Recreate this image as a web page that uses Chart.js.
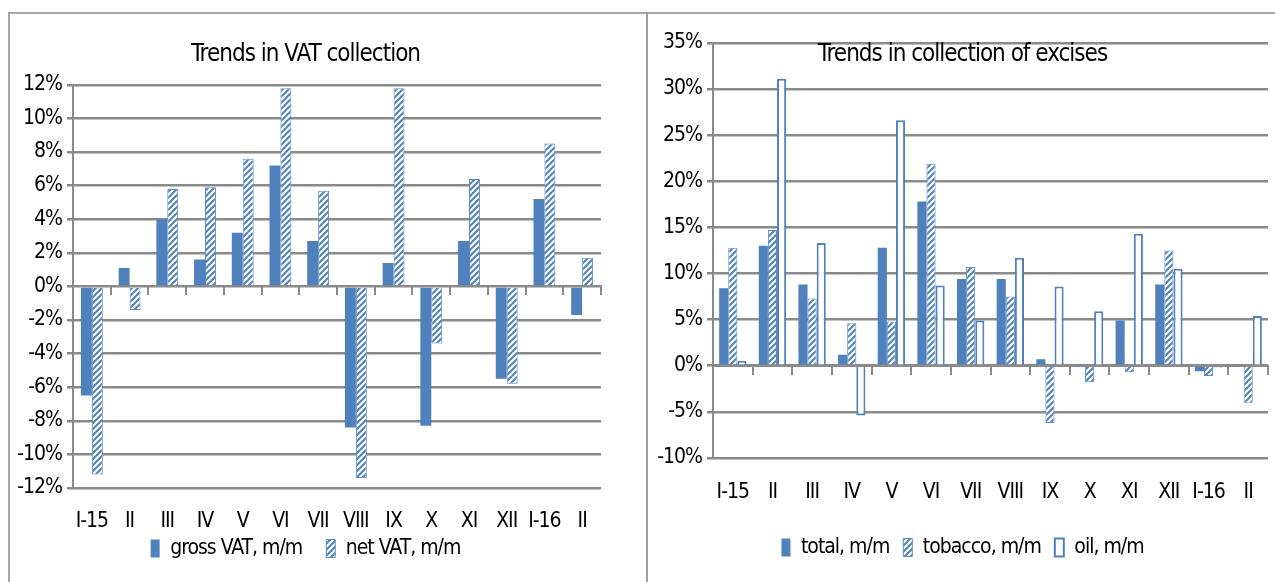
<!DOCTYPE html>
<html>
<head>
<meta charset="utf-8">
<script src="https://cdn.jsdelivr.net/npm/chart.js@4.4.1/dist/chart.umd.min.js"></script>
<style>
  html, body { margin: 0; padding: 0; background: #fff; }
  body { width: 1275px; height: 582px; position: relative; overflow: hidden; }
  #frame { position: absolute; left: 8px; top: 12px; width: 1267px; height: 570px;
           border-top: 2px solid #a6a6a6; border-left: 2px solid #a6a6a6; box-sizing: border-box; }
  #divider { position: absolute; left: 646px; top: 12px; width: 2px; height: 570px; background: #a0a0a0; }
  #vatBox { position: absolute; left: 10px; top: 14px; }
  #exciseBox { position: absolute; left: 649px; top: 14px; }
</style>
</head>
<body>
<div id="frame"></div>
<div id="divider"></div>
<div id="vatBox"><canvas id="vatChart" width="636" height="568"></canvas></div>
<div id="exciseBox"><canvas id="exciseChart" width="626" height="568"></canvas></div>
<script>
// months of 2015 - early 2016
const months = ['I-15', 'II', 'III', 'IV', 'V', 'VI', 'VII', 'VIII', 'IX', 'X', 'XI', 'XII', 'I-16', 'II'];

// VAT, % m/m
const grossVat = [-6.5, 1.1, 4.0, 1.6, 3.2, 7.2, 2.7, -8.4, 1.4, -8.3, 2.7, -5.5, 5.2, -1.7];
const netVat = [-11.2, -1.4, 5.8, 5.9, 7.6, 11.8, 5.7, -11.4, 11.8, -3.4, 6.4, -5.8, 8.5, 1.7];

// excises, % m/m
const exciseTotal = [8.4, 13.0, 8.8, 1.2, 12.8, 17.8, 9.4, 9.4, 0.7, 0.2, 4.9, 8.8, -0.6, null];
const exciseTobacco = [12.8, 14.7, 7.3, 4.6, 4.8, 21.9, 10.7, 7.5, -6.2, -1.8, -0.7, 12.5, -1.1, -4.0];
const exciseOil = [0.5, 31.1, 13.3, -5.4, 26.6, 8.7, 4.9, 11.7, 8.6, 5.9, 14.3, 10.5, -0.2, 5.4];

// axis ranges [min, max, step]
const vatRange = [-12, 12, 2];
const exciseRange = [-10, 35, 5];

const BLUE = '#4F81BD';
const GRID = '#8a8a8a';
const FONT = "'Liberation Sans Narrow', 'Arial Narrow', 'DejaVu Sans Condensed', sans-serif";

Chart.defaults.font.family = FONT;
Chart.defaults.color = '#000';

// tighter text, the source chart uses a condensed font
const tightText = {
  id: 'tightText',
  beforeLayout(chart) { chart.ctx.letterSpacing = '-1px'; },
  beforeDraw(chart) { chart.ctx.letterSpacing = '-1px'; }
};

function hatch() {
  const c = document.createElement('canvas');
  c.width = 6; c.height = 6;
  const g = c.getContext('2d');
  g.fillStyle = '#fff';
  g.fillRect(0, 0, 6, 6);
  g.strokeStyle = BLUE;
  g.lineWidth = 2;
  g.beginPath();
  g.moveTo(0, 6); g.lineTo(6, 0);
  g.moveTo(-3, 3); g.lineTo(3, -3);
  g.moveTo(3, 9); g.lineTo(9, 3);
  g.stroke();
  return g.createPattern(c, 'repeat');
}

function makeOptions(o) {
  const baseLabels = Chart.defaults.plugins.legend.labels.generateLabels;
  return {
    responsive: false,
    animation: false,
    devicePixelRatio: 1,
    layout: { padding: o.pad },
    datasets: { bar: { categoryPercentage: o.group, barPercentage: 1 } },
    plugins: {
      title: {
        display: true,
        text: o.title,
        font: { size: 24, weight: 'normal' },
        color: '#000',
        padding: o.titlePad
      },
      legend: {
        position: 'bottom',
        labels: {
          boxWidth: 9, boxHeight: 18, font: { size: 21 }, padding: 4,
          // extra room between legend items
          generateLabels: (chart) => baseLabels(chart).map((l, i, all) =>
            i < all.length - 1 ? Object.assign(l, { text: l.text + o.legendGap }) : l)
        }
      },
      tooltip: { enabled: false }
    },
    scales: {
      x: {
        grid: { display: false, drawTicks: false },
        border: { display: false },
        afterFit: (s) => { s.height = o.xHeight; },
        ticks: { font: { size: 21 }, padding: o.xPad, maxRotation: 0, autoSkip: false }
      },
      x0: {
        type: 'category',
        labels: months,
        position: { y: 0 },
        offset: true,
        grid: { offset: true, drawOnChartArea: false, drawTicks: true, tickLength: 8, color: GRID, lineWidth: 2 },
        border: { display: true, color: GRID, width: 2 },
        ticks: { display: false }
      },
      y: {
        min: o.range[0],
        max: o.range[1],
        afterFit: (s) => { s.width = o.yWidth; },
        ticks: {
          stepSize: o.range[2],
          font: { size: 21 },
          padding: 5,
          callback: (v) => v + '%'
        },
        grid: { color: GRID, lineWidth: 2.5, tickLength: 6 },
        border: { display: true, color: GRID, width: 2 }
      }
    }
  };
}

new Chart(document.getElementById('vatChart'), {
  type: 'bar',
  plugins: [tightText],
  data: {
    labels: months,
    datasets: [
      { label: 'gross VAT, m/m', data: grossVat, backgroundColor: BLUE, borderWidth: 0 },
      { label: 'net VAT, m/m', data: netVat, backgroundColor: hatch(), borderColor: '#5b8cc8', borderWidth: 1 }
    ]
  },
  options: makeOptions({
    title: 'Trends in VAT collection', range: vatRange, group: 0.58,
    titlePad: { top: 26, bottom: 16 }, xPad: 21, xHeight: 46, yWidth: 63, legendGap: '    ',
    pad: { left: 0, right: 45, top: 0, bottom: 13 }
  })
});

new Chart(document.getElementById('exciseChart'), {
  type: 'bar',
  plugins: [tightText],
  data: {
    labels: months,
    datasets: [
      { label: 'total, m/m', data: exciseTotal, backgroundColor: BLUE, borderWidth: 0 },
      { label: 'tobacco, m/m', data: exciseTobacco, backgroundColor: hatch(), borderColor: '#5b8cc8', borderWidth: 1 },
      { label: 'oil, m/m', data: exciseOil, backgroundColor: '#fff', borderColor: BLUE, borderWidth: 2 }
    ]
  },
  options: makeOptions({
    title: 'Trends in collection of excises', range: exciseRange, group: 0.69,
    titlePad: { top: 26, bottom: -26 }, xPad: 22, xHeight: 75, yWidth: 56, legendGap: '  ',
    pad: { left: 8, right: 7, top: 0, bottom: 14 }
  })
});
</script>
</body>
</html>
